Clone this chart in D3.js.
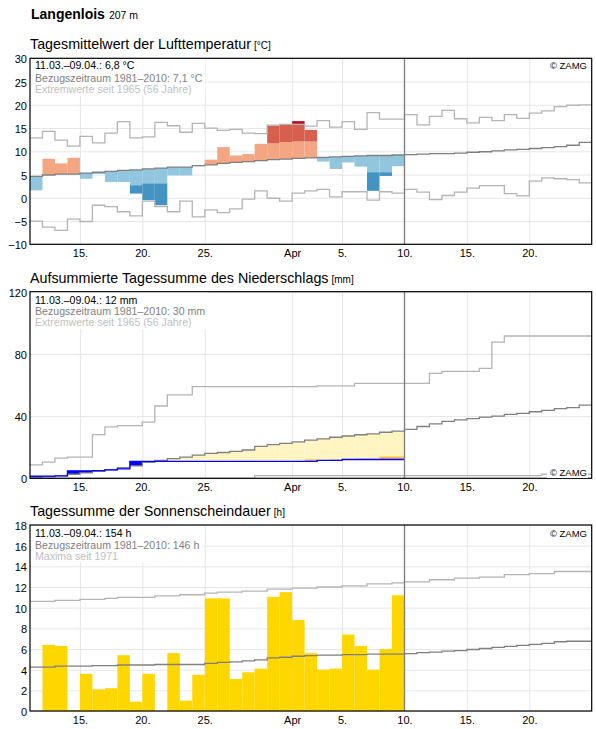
<!DOCTYPE html>
<html>
<head>
<meta charset="utf-8">
<script src="https://cdn.jsdelivr.net/npm/d3@7"></script>
<style>
  body { margin: 0; background: #fff; }
  svg { display: block; font-family: "Liberation Sans", Arial, sans-serif; }
</style>
</head>
<body>
<svg id="chart" width="596" height="729"></svg>
<script>
// station + period
const station = "Langenlois";
const altitude = "207 m";
const startDate = new Date(Date.UTC(2021, 2, 11)); // 11.03.
const nDays = 45;   // shown period 11.03. - 24.04.
const nObs = 30;    // observed 11.03. - 09.04.

const xTickDates = ["2021-03-15", "2021-03-20", "2021-03-25", "2021-04-01", "2021-04-05", "2021-04-10", "2021-04-15", "2021-04-20"];
const xTickLabels = ["15.", "20.", "25.", "Apr", "5.", "10.", "15.", "20."];

// --- temperature (°C)
const tempTicks = [-10, -5, 0, 5, 10, 15, 20, 25, 30];
const temp = [1.6, 8.4, 7.4, 8.6, 4.1, 5.1, 3.4, 3.4, 0.9, -0.5, -1.6, 4.8, 4.8, 6.8, 8.2, 10.9, 9.1, 9.4, 11.6, 15.5,
  15.7, 16.5, 14.6, 7.8, 6.2, 7.6, 6.7, 1.5, 4.7, 6.8];
const tempWarm = [8.2, 8.5, 8.7, 8.8, 8.9, 9.1, 9.3, 9.5, 9.6, 9.8, 10.0, 10.2, 10.2, 10.5, 10.7, 11.0, 11.2, 11.4, 11.7, 11.7,
  12.0, 12.1, 12.1, 12.3, 12.4, 12.5, 12.6, 12.7, 12.7, 12.8];
const tempCold = [1.2, 1.5, 1.7, 1.7, 1.9, 2.1, 2.3, 2.5, 2.7, 3.1, 3.1, 3.3, 3.3, 3.5, 3.7, 4.0, 4.2, 4.4, 4.6, 4.8,
  4.9, 5.1, 5.2, 5.3, 5.4, 5.5, 5.5, 5.5, 5.5, 5.6];
const tempMean = [4.6, 4.9, 5.1, 5.1, 5.3, 5.5, 5.7, 5.9, 6.0, 6.2, 6.4, 6.6, 6.6, 6.9, 7.1, 7.4, 7.6, 7.8, 8.0, 8.2,
  8.3, 8.5, 8.6, 8.7, 8.8, 8.9, 9.0, 9.1, 9.1, 9.2, 9.3, 9.4, 9.5, 9.5, 9.6, 9.8, 9.9, 10.1, 10.3, 10.4,
  10.6, 10.8, 11.0, 11.3, 11.9];
const tempMax = [12.9, 14.3, 12.4, 11.1, 13.2, 11.8, 13.9, 16.4, 12.9, 13.1, 16.2, 15.5, 14.1, 16.0, 15.0, 14.5, 14.7, 13.9, 13.8, 15.65,
  15.8, 15.8, 15.4, 16.6, 15.2, 16.4, 14.7, 18.3, 16.9, 16.9, 17.9, 15.7, 17.5, 18.8, 17.0, 16.1, 17.3, 16.6, 17.9, 17.1,
  18.2, 18.7, 19.6, 19.9, 20.0];
const tempMin = [-5.0, -6.3, -7.0, -4.6, -5.1, -1.6, -1.9, -3.0, -3.9, -0.7, -1.9, -3.0, -0.7, -4.1, -2.6, -3.2, -2.4, -0.3, 1.5, -0.1,
  -0.7, 1.0, 1.5, 1.8, 0.2, 1.3, 1.3, -0.5, 1.3, 1.0, 1.8, 1.2, -0.4, 0.5, 1.2, 2.1, 2.6, 2.6, 0.9, 0.4,
  3.6, 4.3, 4.1, 3.9, 3.2];

// --- precipitation, accumulated (mm)
const precTicks = [0, 40, 80, 120];
const prec = [1.4, 1.4, 1.6, 4.8, 4.8, 4.9, 5.4, 6.0, 10.9, 10.9, 10.9, 10.9, 10.9, 10.9, 10.9, 10.9, 10.9, 10.9, 10.9, 10.9,
  10.9, 10.9, 10.9, 11.5, 11.5, 12.1, 12.1, 12.1, 12.1, 12.1];
const precExtra = [0, 0, 0, 0, 0, 0, 0, 0, 0, 0, 0, 0, 0, 0, 0, 0, 0, 0, 0, 0,
  0, 0, 1.3, 0, 0.5, 0, 0.6, 0.6, 1.9, 1.9];
const precMean = [0.5, 1.0, 1.6, 2.6, 3.5, 4.5, 5.5, 6.8, 8.0, 10.2, 11.5, 12.6, 13.6, 14.9, 16.0, 16.6, 17.3, 18.2, 20.5, 21.6,
  22.5, 23.4, 24.6, 25.3, 26.4, 27.2, 28.0, 28.6, 29.6, 30.4, 31.5, 33.3, 35.0, 36.6, 37.6, 38.4, 39.4, 40.0, 41.1, 41.7,
  42.8, 43.7, 44.8, 45.4, 47.0];
const precMax = [8.6, 10.4, 13.0, 13.6, 13.6, 28.1, 33.1, 33.9, 33.9, 36.1, 46.5, 53.6, 53.6, 59.0, 59.0, 59.0, 59.0, 59.0, 59.0, 59.0,
  59.0, 59.0, 59.0, 59.5, 59.5, 59.5, 61.0, 61.0, 61.0, 61.0, 61.0, 61.0, 67.5, 68.8, 68.8, 68.8, 70.7, 87.6, 91.5, 91.5,
  91.5, 91.5, 91.5, 91.5, 91.5];
const precMin = [0, 0, 0, 0, 0, 0, 0, 0, 0, 0, 0, 0, 0, 0, 0, 0, 0, 0, 1.7, 1.7,
  1.7, 1.7, 1.7, 1.7, 1.7, 1.7, 1.7, 1.7, 1.7, 1.7, 1.7, 1.7, 1.7, 1.7, 1.7, 1.7, 1.7, 1.7, 1.7, 1.7,
  1.7, 2.6, 2.6, 2.6, 2.6];

// --- sunshine duration (h)
const sunTicks = [0, 2, 4, 6, 8, 10, 12, 14, 16, 18];
const sun = [0, 6.4, 6.3, 0.1, 3.6, 2.1, 2.2, 5.4, 0.9, 3.6, 0, 5.6, 1.0, 3.5, 10.9, 10.9, 3.1, 3.75, 4.1, 11.05,
  11.5, 8.8, 5.6, 4.0, 4.1, 7.4, 6.3, 4.0, 6.0, 11.2];
const sunMean = [4.25, 4.25, 4.35, 4.35, 4.35, 4.4, 4.4, 4.45, 4.45, 4.45, 4.5, 4.5, 4.5, 4.5, 4.6, 4.7, 4.75, 4.85, 4.95, 5.15,
  5.2, 5.3, 5.35, 5.4, 5.4, 5.45, 5.45, 5.5, 5.5, 5.5, 5.55, 5.65, 5.7, 5.8, 5.85, 5.95, 6.05, 6.15, 6.25, 6.35,
  6.45, 6.55, 6.7, 6.75, 6.75];
const sunMax = [10.6, 10.6, 10.7, 10.7, 10.8, 10.8, 10.9, 11.0, 11.0, 11.0, 11.15, 11.15, 11.25, 11.25, 11.4, 11.5, 11.5, 11.6, 11.6, 11.8,
  11.8, 11.9, 11.9, 12.0, 12.0, 12.1, 12.1, 12.3, 12.3, 12.4, 12.5, 12.5, 12.7, 12.7, 12.85, 12.85, 12.95, 12.95, 13.2, 13.2,
  13.3, 13.3, 13.5, 13.5, 13.5];

// legend lines
const tempLegend = ["11.03.–09.04.: 6,8 °C", "Bezugszeitraum 1981–2010: 7,1 °C", "Extremwerte seit 1965 (56 Jahre)"];
const precLegend = ["11.03.–09.04.: 12 mm", "Bezugszeitraum 1981–2010: 30 mm", "Extremwerte seit 1965 (56 Jahre)"];
const sunLegend = ["11.03.–09.04.: 154 h", "Bezugszeitraum 1981–2010: 146 h", "Maxima seit 1971"];

const colors = {
  grid: "#e6e6e6", extreme: "#b4b4b4", mean: "#808080",
  warm: ["#f4a582", "#d6604d", "#b2182b"], cold: ["#92c5de", "#4393c3"],
  precWet: "#0000ff", precDry: "#fff5c2", precExtra: "#fdb54a", precLine: "#0000ff",
  sun: "#ffd700",
  legend: ["#000", "#808080", "#c0c0c0"]
};

const dayDate = i => new Date(startDate.getTime() + i * 864e5);
const xL = 30, xR = 591.7;
const x = d3.scaleUtc().domain([dayDate(0), dayDate(nDays)]).range([xL, xR]);
const endObs = dayDate(nObs);

const svg = d3.select("#chart");

// header
const head = svg.append("text").attr("x", 31).attr("y", 18.5);
head.append("tspan").attr("font-size", 14).attr("font-weight", "bold").text(station);
head.append("tspan").attr("dx", 4).attr("font-size", 10.5).text(altitude);

function stepPoints(values) {
  const pts = values.map((v, i) => [dayDate(i), v]);
  pts.push([dayDate(values.length), values[values.length - 1]]);
  return pts;
}

function panel(p) {
  const g = svg.append("g");
  const y = d3.scaleLinear().domain(p.domain).range([p.bottom, p.top]);
  const h = p.bottom - p.top;

  g.append("text").attr("x", 30).attr("y", p.top - 9)
    .call(t => t.append("tspan").attr("font-size", 14.3).text(p.title))
    .call(t => t.append("tspan").attr("dx", 3).attr("font-size", 10).text(p.unit));

  // horizontal grid + y labels
  g.append("g").attr("transform", `translate(${xL},0)`)
    .call(d3.axisLeft(y).tickValues(p.ticks).tickSize(-(xR - xL)).tickPadding(3))
    .call(a => a.select(".domain").remove())
    .call(a => a.selectAll("line").attr("stroke", colors.grid))
    .call(a => a.selectAll("text").attr("font-size", 11).attr("font-family", null).attr("fill", "#000").attr("dy", "0.41em"));

  // vertical grid + x labels
  g.append("g").attr("transform", `translate(0,${p.bottom})`)
    .call(d3.axisBottom(x).tickValues(xTickDates.map(d => new Date(d + "T00:00Z")))
      .tickFormat((d, i) => xTickLabels[i]).tickSize(-h).tickPadding(5.2))
    .call(a => a.select(".domain").remove())
    .call(a => a.selectAll("line").attr("stroke", colors.grid))
    .call(a => a.selectAll("text").attr("font-size", 11).attr("font-family", null).attr("fill", "#000"));

  const plot = g.append("g");
  const over = g.append("g");

  const line = d3.line().curve(d3.curveStepAfter).x(d => x(d[0])).y(d => y(d[1]));

  return { g, y, h, plot, over, line };
}

function finish(P, p) {
  // end of observation
  P.over.append("line")
    .attr("x1", x(endObs)).attr("x2", x(endObs)).attr("y1", p.top).attr("y2", p.bottom)
    .attr("stroke", colors.mean).attr("stroke-width", 1.3);
  // frame
  P.over.append("rect").attr("x", xL).attr("y", p.top).attr("width", xR - xL).attr("height", p.bottom - p.top)
    .attr("fill", "none").attr("stroke", "#000").attr("stroke-width", 1.2);

  // legend
  const lg = P.over.append("g");
  const bg = lg.append("rect").attr("fill", "#fff");
  const texts = lg.selectAll("text").data(p.legend).join("text")
    .attr("x", 35).attr("y", (d, i) => p.top + p.legendY[i])
    .attr("font-size", 10.6).attr("fill", (d, i) => colors.legend[i]).text(d => d);
  let w = 0;
  texts.each(function () { w = Math.max(w, this.getComputedTextLength()); });
  bg.attr("x", xL + 1).attr("y", p.top + 1).attr("width", w + 7).attr("height", p.legendY[2] + 2);

  // copyright
  const cz = P.over.append("g");
  const czBg = cz.append("rect").attr("fill", "#fff");
  const ct = cz.append("text").attr("x", 587).attr("y", p.zamgY).attr("text-anchor", "end")
    .attr("font-size", 9.5).attr("fill", "#000").text("© ZAMG");
  const bb = ct.node().getBBox();
  czBg.attr("x", bb.x - 3).attr("y", bb.y).attr("width", bb.width + 4).attr("height", bb.height);
}

// ---------- panel 1: temperature
const p1 = { top: 58.3, bottom: 244.3, domain: [-10, 30], ticks: tempTicks,
  title: "Tagesmittelwert der Lufttemperatur", unit: "[°C]", legend: tempLegend,
  legendY: [10.2, 23.2, 35], zamgY: 68.5 };
const T = panel(p1);

const tempSegs = [];
temp.forEach((v, i) => {
  const m = tempMean[i];
  if (v >= m) {
    tempSegs.push({ i, a: m, b: Math.min(v, tempWarm[i]), c: colors.warm[0] });
    if (v > tempWarm[i]) tempSegs.push({ i, a: tempWarm[i], b: Math.min(v, tempMax[i]), c: colors.warm[1] });
    if (v > tempMax[i]) tempSegs.push({ i, a: Math.max(tempMax[i], tempWarm[i]), b: v, c: colors.warm[2] });
  } else {
    tempSegs.push({ i, a: Math.max(v, tempCold[i]), b: m, c: colors.cold[0] });
    if (v < tempCold[i]) tempSegs.push({ i, a: v, b: tempCold[i], c: colors.cold[1] });
  }
});
T.plot.selectAll("rect").data(tempSegs.filter(s => s.b > s.a)).join("rect")
  .attr("x", s => x(dayDate(s.i))).attr("width", s => x(dayDate(s.i + 1)) - x(dayDate(s.i)))
  .attr("y", s => T.y(s.b)).attr("height", s => T.y(s.a) - T.y(s.b)).attr("fill", s => s.c);

[[tempMax, colors.extreme], [tempMin, colors.extreme], [tempMean, colors.mean]].forEach(([vals, c]) => {
  T.plot.append("path").attr("d", T.line(stepPoints(vals))).attr("fill", "none")
    .attr("stroke", c).attr("stroke-width", 1.3);
});
finish(T, p1);

// ---------- panel 2: precipitation
const p2 = { top: 291.7, bottom: 478.3, domain: [0, 120], ticks: precTicks,
  title: "Aufsummierte Tagessumme des Niederschlags", unit: "[mm]", legend: precLegend,
  legendY: [12.3, 23.5, 34.5], zamgY: 476 };
const R = panel(p2);

R.plot.selectAll("rect.diff").data(prec).join("rect").attr("class", "diff")
  .attr("x", (v, i) => x(dayDate(i))).attr("width", (v, i) => x(dayDate(i + 1)) - x(dayDate(i)))
  .attr("y", (v, i) => R.y(Math.max(v, precMean[i])))
  .attr("height", (v, i) => Math.abs(R.y(v) - R.y(precMean[i])))
  .attr("fill", (v, i) => v > precMean[i] ? colors.precWet : colors.precDry);

R.plot.selectAll("rect.extra").data(precExtra).join("rect").attr("class", "extra")
  .attr("x", (v, i) => x(dayDate(i))).attr("width", (v, i) => x(dayDate(i + 1)) - x(dayDate(i)))
  .attr("y", (v, i) => R.y(prec[i] + v)).attr("height", (v, i) => R.y(prec[i]) - R.y(prec[i] + v))
  .attr("fill", colors.precExtra);

[[precMax, colors.extreme], [precMin, colors.extreme], [precMean, colors.mean], [prec, colors.precLine]].forEach(([vals, c]) => {
  R.plot.append("path").attr("d", R.line(stepPoints(vals))).attr("fill", "none")
    .attr("stroke", c).attr("stroke-width", 1.3);
});
finish(R, p2);

// ---------- panel 3: sunshine
const p3 = { top: 525, bottom: 711, domain: [0, 18], ticks: sunTicks,
  title: "Tagessumme der Sonnenscheindauer", unit: "[h]", legend: sunLegend,
  legendY: [12.3, 23.5, 34.5], zamgY: 537 };
const S = panel(p3);

S.plot.selectAll("rect").data(sun).join("rect")
  .attr("x", (v, i) => x(dayDate(i))).attr("width", (v, i) => x(dayDate(i + 1)) - x(dayDate(i)))
  .attr("y", v => S.y(v)).attr("height", v => S.y(0) - S.y(v)).attr("fill", colors.sun);

[[sunMax, colors.extreme], [sunMean, colors.mean]].forEach(([vals, c]) => {
  S.plot.append("path").attr("d", S.line(stepPoints(vals))).attr("fill", "none")
    .attr("stroke", c).attr("stroke-width", 1.3);
});
finish(S, p3);
</script>
</body>
</html>
